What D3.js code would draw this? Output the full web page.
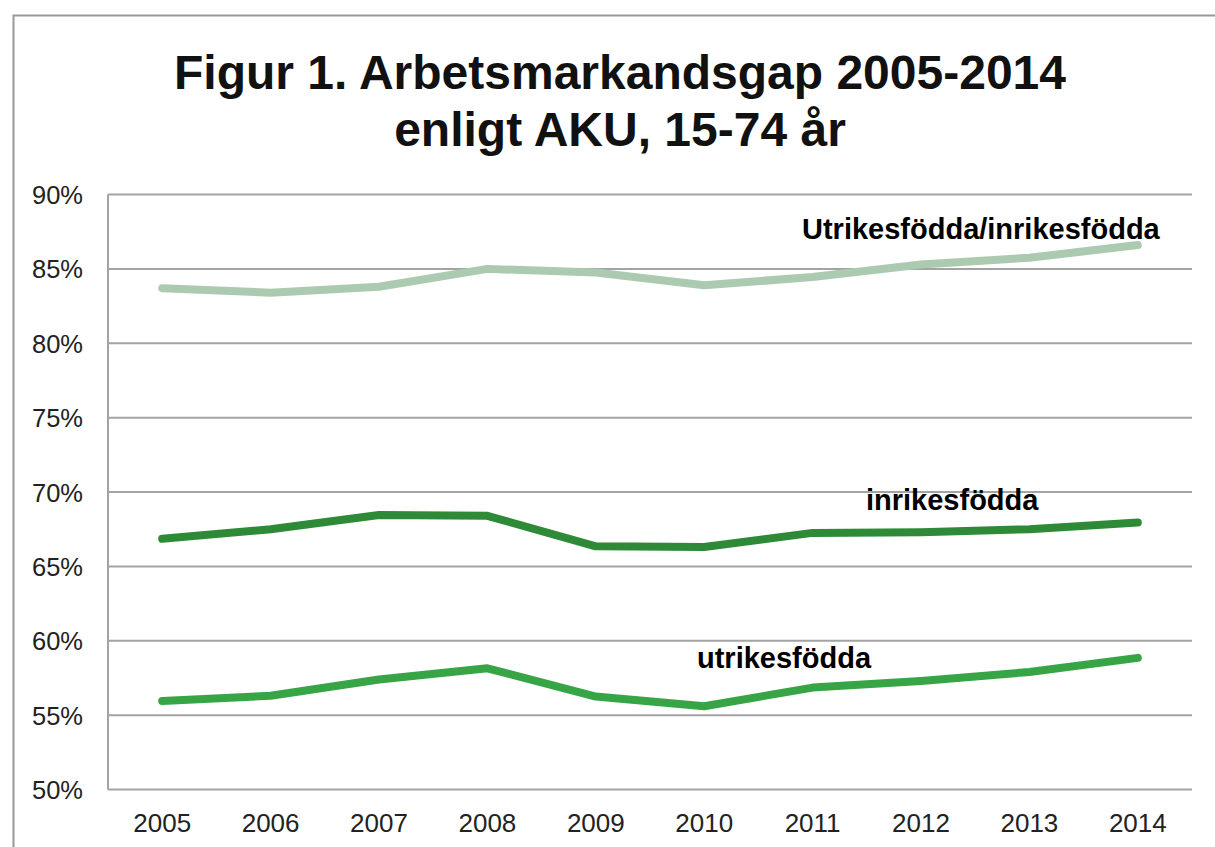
<!DOCTYPE html>
<html>
<head>
<meta charset="utf-8">
<script src="https://cdn.jsdelivr.net/npm/d3@7"></script>
<style>
  html, body { margin: 0; padding: 0; background: #fff; }
  svg { display: block; font-family: "Liberation Sans", Arial, sans-serif; }
</style>
</head>
<body>
<svg id="chart" width="1215" height="847"></svg>
<script>
const years = ["2005","2006","2007","2008","2009","2010","2011","2012","2013","2014"];
const ratio = [83.7, 83.4, 83.8, 85.0, 84.75, 83.9, 84.45, 85.3, 85.75, 86.6];
const inrikes = [66.85, 67.5, 68.45, 68.4, 66.35, 66.3, 67.25, 67.3, 67.5, 67.95];
const utrikes = [55.95, 56.3, 57.4, 58.15, 56.25, 55.6, 56.85, 57.3, 57.9, 58.85];
const yTicks = [50, 55, 60, 65, 70, 75, 80, 85, 90];
const titleLines = ["Figur 1. Arbetsmarkandsgap 2005-2014", "enligt AKU, 15-74 år"];
const seriesNames = ["Utrikesfödda/inrikesfödda", "inrikesfödda", "utrikesfödda"];

const svg = d3.select("#chart");
const W = 1215, H = 847;
const plot = { left: 108, right: 1192, top: 194.5, bottom: 789.5 };

// outer chart border
svg.append("rect")
  .attr("x", 13.5).attr("y", 15.5)
  .attr("width", 1230).attr("height", 900)
  .attr("fill", "none").attr("stroke", "#999").attr("stroke-width", 2);

// title
svg.append("text")
  .attr("x", 620).attr("y", 89)
  .attr("text-anchor", "middle")
  .attr("font-size", 48).attr("font-weight", "bold").attr("fill", "#111")
  .text(titleLines[0]);
svg.append("text")
  .attr("x", 620).attr("y", 146)
  .attr("text-anchor", "middle")
  .attr("font-size", 48).attr("font-weight", "bold").attr("fill", "#111")
  .text(titleLines[1]);

const x = d3.scaleBand().domain(years).range([plot.left, plot.right]);
const y = d3.scaleLinear().domain([50, 90]).range([plot.bottom, plot.top]);

// gridlines
svg.append("g").selectAll("line").data(yTicks).join("line")
  .attr("x1", plot.left).attr("x2", plot.right)
  .attr("y1", d => y(d)).attr("y2", d => y(d))
  .attr("stroke", "#a3a3a3").attr("stroke-width", 2);

// left axis line
svg.append("line")
  .attr("x1", plot.left).attr("x2", plot.left)
  .attr("y1", plot.top).attr("y2", plot.bottom)
  .attr("stroke", "#a3a3a3").attr("stroke-width", 2);

// y tick labels
svg.append("g").selectAll("text").data(yTicks).join("text")
  .attr("x", 83).attr("y", d => y(d) + 9.5)
  .attr("text-anchor", "end")
  .attr("font-size", 25.5).attr("fill", "#222")
  .text(d => d + "%");

// x tick labels
svg.append("g").selectAll("text").data(years).join("text")
  .attr("x", d => x(d) + x.bandwidth() / 2).attr("y", 832)
  .attr("text-anchor", "middle")
  .attr("font-size", 26).attr("fill", "#222")
  .text(d => d);

const line = d3.line()
  .x((d, i) => x(years[i]) + x.bandwidth() / 2)
  .y(d => y(d));

const series = [
  { values: ratio, color: "#abcab0" },
  { values: inrikes, color: "#2e8a37" },
  { values: utrikes, color: "#37a545" }
];

svg.append("g").selectAll("path").data(series).join("path")
  .attr("d", d => line(d.values))
  .attr("fill", "none")
  .attr("stroke", d => d.color)
  .attr("stroke-width", 8)
  .attr("stroke-linecap", "round")
  .attr("stroke-linejoin", "round");

// series labels
const labelPos = [
  { x: 802, y: 239 },
  { x: 866, y: 510 },
  { x: 697, y: 668 }
];
svg.append("g").selectAll("text").data(seriesNames).join("text")
  .attr("x", (d, i) => labelPos[i].x).attr("y", (d, i) => labelPos[i].y)
  .attr("font-size", 29).attr("font-weight", "bold").attr("fill", "#000")
  .text(d => d);
</script>
</body>
</html>
